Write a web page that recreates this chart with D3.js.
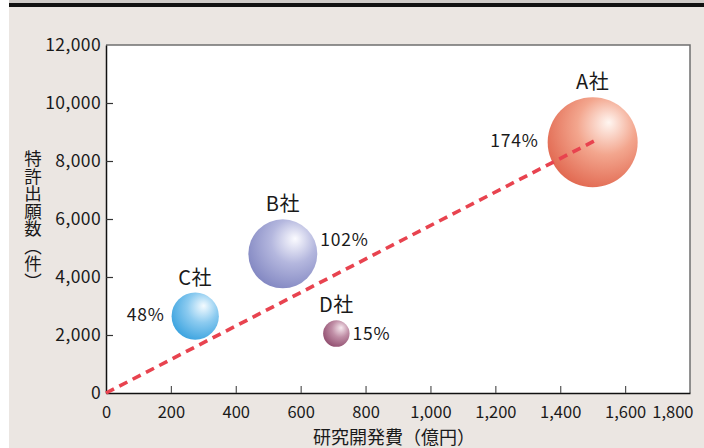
<!DOCTYPE html>
<html>
<head>
<meta charset="utf-8">
<script src="https://cdn.jsdelivr.net/npm/d3@7/dist/d3.min.js"></script>
<style>
  html, body { margin: 0; padding: 0; background: #ebe6e2; }
  svg { display: block; }
  text { font-family: "Noto Sans CJK JP", "Noto Sans", sans-serif; fill: #1a1a1a; }
</style>
</head>
<body>
<svg id="chart" width="704" height="448"></svg>
<script>
// ---- data ----
const companies = ["A社", "B社", "C社", "D社"];
const rdSpend   = [1500, 545, 275, 710];     // 研究開発費（億円）
const patents   = [8650, 4800, 2650, 2050];  // 特許出願数（件）
const growthPct = [174, 102, 48, 15];        // 伸び率（%）
const xTickValues = [0, 200, 400, 600, 800, 1000, 1200, 1400, 1600, 1800];
const yTickValues = [0, 2000, 4000, 6000, 8000, 10000, 12000];
const trendFrom = [0, 0];
const trendTo   = [1510, 8720];

// ---- appearance ----
const sphereColors = [
  { hi: "#fff6f1", mid: "#f3a68e", edge: "#e0644c" },
  { hi: "#fbfbff", mid: "#b4b7de", edge: "#7f84c0" },
  { hi: "#f4fbff", mid: "#8ccbf0", edge: "#35a0de" },
  { hi: "#f6e8ee", mid: "#c08ea6", edge: "#8e4a6c" }
];
// where each percentage sits relative to its bubble
const pctPlacement = [
  { side: "left",  dx: -9, dy: 0 },
  { side: "right", dx: 3,  dy: -13 },
  { side: "left",  dx: -7, dy: 0 },
  { side: "right", dx: 3,  dy: 2 }
];

const svg = d3.select("#chart");
const W = 704, H = 448;
const plot = { left: 106, right: 690, top: 45, bottom: 393 };

// page background and top rule
svg.append("rect").attr("width", W).attr("height", H).attr("fill", "#ebe6e2");
svg.append("rect").attr("x", 0).attr("y", 0).attr("width", 9).attr("height", H).attr("fill", "#ffffff");
svg.append("rect").attr("x", 9).attr("y", 0).attr("width", W - 9).attr("height", 3).attr("fill", "#cfcbc8");
svg.append("rect").attr("x", 9).attr("y", 3).attr("width", W - 9).attr("height", 4).attr("fill", "#111111");

const x = d3.scaleLinear().domain([0, 1800]).range([plot.left, plot.right]);
const y = d3.scaleLinear().domain([0, 12000]).range([plot.bottom, plot.top]);
const r = d3.scaleSqrt().domain([0, 174]).range([0, 45]);

// plot area
svg.append("rect")
  .attr("x", plot.left).attr("y", plot.top)
  .attr("width", plot.right - plot.left).attr("height", plot.bottom - plot.top)
  .attr("fill", "#ffffff");
// top and right frame edges (grey)
svg.append("path")
  .attr("d", `M${plot.left},${plot.top}H${plot.right}V${plot.bottom}`)
  .attr("fill", "none").attr("stroke", "#6f6f6f").attr("stroke-width", 1.5);

const fmt = d3.format(",");
const numFont = "\"Noto Sans\", \"Noto Sans CJK JP\", sans-serif";

// x axis
const xAxis = svg.append("g")
  .attr("transform", `translate(0,${plot.bottom})`)
  .call(d3.axisBottom(x).tickValues(xTickValues).tickFormat(fmt).tickSizeInner(-7).tickSizeOuter(0).tickPadding(13));
xAxis.select(".domain").attr("stroke", "#111").attr("stroke-width", 1.5);
xAxis.selectAll(".tick line").attr("stroke", "#555").attr("stroke-width", 1.2);
xAxis.selectAll(".tick text")
  .attr("font-size", 16.5).attr("fill", "#1a1a1a").attr("font-family", numFont);
xAxis.selectAll(".tick").filter(d => d === 1800).select("text").attr("text-anchor", "end").attr("dx", 3);
xAxis.selectAll(".tick").filter(d => d === 1800 || d === 0).select("line").remove();

// y axis
const yAxis = svg.append("g")
  .attr("transform", `translate(${plot.left},0)`)
  .call(d3.axisLeft(y).tickValues(yTickValues).tickFormat(fmt).tickSizeInner(-7).tickSizeOuter(0).tickPadding(5));
yAxis.select(".domain").attr("stroke", "#111").attr("stroke-width", 1.5);
yAxis.selectAll(".tick line").attr("stroke", "#333").attr("stroke-width", 1.2);
yAxis.selectAll(".tick text")
  .attr("font-size", 17.5).attr("fill", "#1a1a1a").attr("font-family", numFont)
  .attr("letter-spacing", 0.4);
yAxis.selectAll(".tick").filter(d => d === 0 || d === 12000).select("line").remove();

// axis titles
svg.append("text")
  .attr("x", 394).attr("y", 444)
  .attr("text-anchor", "middle")
  .attr("font-size", 18)
  .text("研究開発費（億円）");

svg.append("text")
  .attr("x", 33).attr("y", 150)
  .attr("font-size", 17.5)
  .style("writing-mode", "vertical-rl")
  .style("text-orientation", "upright")
  .text("特許出願数（件）");

// sphere gradients
const defs = svg.append("defs");
sphereColors.forEach((c, i) => {
  const g = defs.append("radialGradient")
    .attr("id", `sphere${i}`)
    .attr("cx", 0.62).attr("cy", 0.36).attr("r", 0.72)
    .attr("fx", 0.68).attr("fy", 0.28);
  g.append("stop").attr("offset", "0%").attr("stop-color", c.hi);
  g.append("stop").attr("offset", "45%").attr("stop-color", c.mid);
  g.append("stop").attr("offset", "100%").attr("stop-color", c.edge);
});

const data = companies.map((name, i) => ({
  name, spend: rdSpend[i], patents: patents[i], pct: growthPct[i], i
}));

// bubbles (largest first so smaller ones stay on top)
svg.append("g").selectAll("circle")
  .data(data.slice().sort((a, b) => b.pct - a.pct))
  .join("circle")
  .attr("cx", d => x(d.spend))
  .attr("cy", d => y(d.patents))
  .attr("r", d => r(d.pct))
  .attr("fill", d => `url(#sphere${d.i})`);

// trend line drawn over the bubbles
svg.append("line")
  .attr("x1", x(trendFrom[0])).attr("y1", y(trendFrom[1]))
  .attr("x2", x(trendTo[0])).attr("y2", y(trendTo[1]))
  .attr("stroke", "#e8434f").attr("stroke-width", 3.6)
  .attr("stroke-dasharray", "9,6");

// company names above each bubble
svg.append("g").selectAll("text")
  .data(data)
  .join("text")
  .attr("x", d => x(d.spend))
  .attr("y", d => y(d.patents) - r(d.pct) - 8)
  .attr("text-anchor", "middle")
  .attr("font-size", 20)
  .attr("letter-spacing", 0.5)
  .text(d => d.name);

// growth percentages beside each bubble
svg.append("g").selectAll("text")
  .data(data)
  .join("text")
  .attr("x", d => {
    const p = pctPlacement[d.i];
    return p.side === "left" ? x(d.spend) - r(d.pct) + p.dx : x(d.spend) + r(d.pct) + p.dx;
  })
  .attr("y", d => y(d.patents) + pctPlacement[d.i].dy)
  .attr("dominant-baseline", "middle")
  .attr("text-anchor", d => pctPlacement[d.i].side === "left" ? "end" : "start")
  .attr("font-size", 17.5)
  .attr("letter-spacing", 0.8)
  .attr("font-family", numFont)
  .text(d => `${d.pct}%`);
</script>
</body>
</html>
